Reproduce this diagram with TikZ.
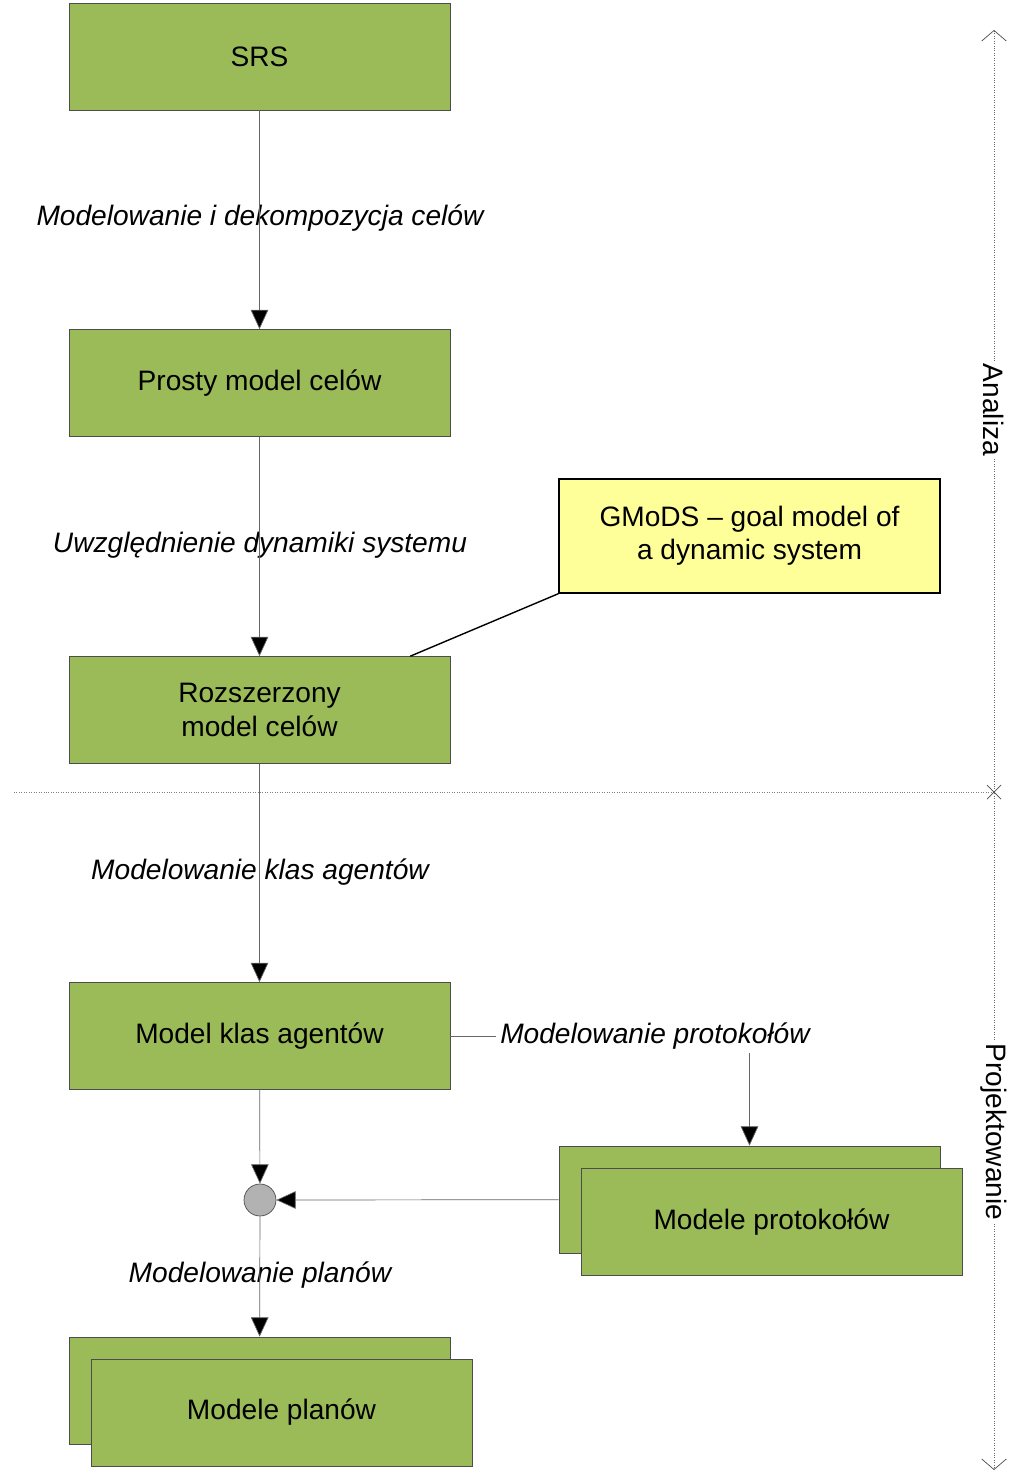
\documentclass[tikz,border=0pt]{standalone}
\usepackage{fontspec}
\setmainfont{Liberation Sans}
\usetikzlibrary{positioning, arrows.meta}
\definecolor{boxgreen}{HTML}{9BBB59}
\definecolor{noteyellow}{HTML}{FFFF99}
\tikzset{
stage/.style={draw=black!70, fill=boxgreen, minimum width=7.62cm, minimum height=2.14cm, align=center, font=\fontsize{16}{19}\selectfont},
note/.style={draw, thick, fill=noteyellow, minimum width=7.62cm, minimum height=2.28cm, align=center, font=\fontsize{16}{19}\selectfont},
lbl/.style={fill=white, font=\fontsize{16}{19}\selectfont\itshape, inner sep=1pt},
flow/.style={draw=black!60, -{Triangle[length=11pt,width=10pt,fill=black]}},
phase/.style={font=\fontsize{16}{19}\selectfont, rotate=-90, fill=white, inner sep=1pt},
}
\begin{document}
\begin{tikzpicture}[x=0.02cm, y=-0.02cm]
    \useasboundingbox (0,0) rectangle (1024,1475);

    %main column
    \node[stage] (srs) at (259.5,56.5) {SRS};
    \node[stage] (prosty) at (259.5,383) {Prosty model celów};
    \node[stage] (rozsz) at (259.5,710) {Rozszerzony\\model celów};
    \node[stage] (klasy) at (259.5,1036) {Model klas agentów};
    \node[stage] (plany0) at (259.5,1390.5) {};
    \node[stage] (plany) at (281.5,1412.5) {Modele planów};

    %side column
    \node[note] (gmods) at (749.5,536) {GMoDS -- goal model of\\a dynamic system};
    \node[stage] (proto0) at (749.5,1199.5) {};
    \node[stage] (proto) at (771.5,1222) {Modele protokołów};
    \node[circle, draw=black!70, fill=black!30, minimum size=0.64cm, inner sep=0pt] (merge) at (260,1200) {};

    %edge labels
    \node[lbl] (l1) at (260,218) {Modelowanie i dekompozycja celów};
    \node[lbl] (l2) at (260,545) {Uwzględnienie dynamiki systemu};
    \node[lbl] (l3) at (260,872) {Modelowanie klas agentów};
    \node[lbl] (l4) at (260,1275) {Modelowanie planów};
    \node[lbl, inner sep=2pt] (l5) at (655,1036) {Modelowanie protokołów};

    %connectors
    \draw[flow] (srs) -- (prosty);
    \draw[flow] (prosty) -- (rozsz);
    \draw[flow] (rozsz) -- (klasy);
    \draw[flow] (klasy) -- (merge);
    \draw[flow] (merge) -- (plany0);
    \draw[flow] (proto0) -- (merge);
    \draw[draw=black!60] (klasy) -- (l5);
    \draw[flow] (l5.south -| proto0) -- (proto0);
    \draw[thick] (gmods.south west) -- ([xshift=-0.8cm]rozsz.north east);

    %phases
    \coordinate (axtop) at (994,30);
    \coordinate (axmid) at (994,792);
    \coordinate (axbot) at (994,1470);
    \coordinate (sepl) at (14,792);
    \draw[black!50, densely dotted] (sepl) -- (axmid);
    \draw[black!60, densely dotted, {Straight Barb[length=6pt,width=14pt,black!70]}-{Straight Barb[length=6pt,width=14pt,black!70]}] (axtop) -- (axbot);
    \draw[black!70] ([shift={(-7,-7)}]axmid) -- ([shift={(7,7)}]axmid)
                    ([shift={(-7,7)}]axmid) -- ([shift={(7,-7)}]axmid);
    \node[phase] (analiza) at (994,410) {Analiza};
    \node[phase] (projekt) at (994,1132) {Projektowanie};
\end{tikzpicture}
\end{document}
